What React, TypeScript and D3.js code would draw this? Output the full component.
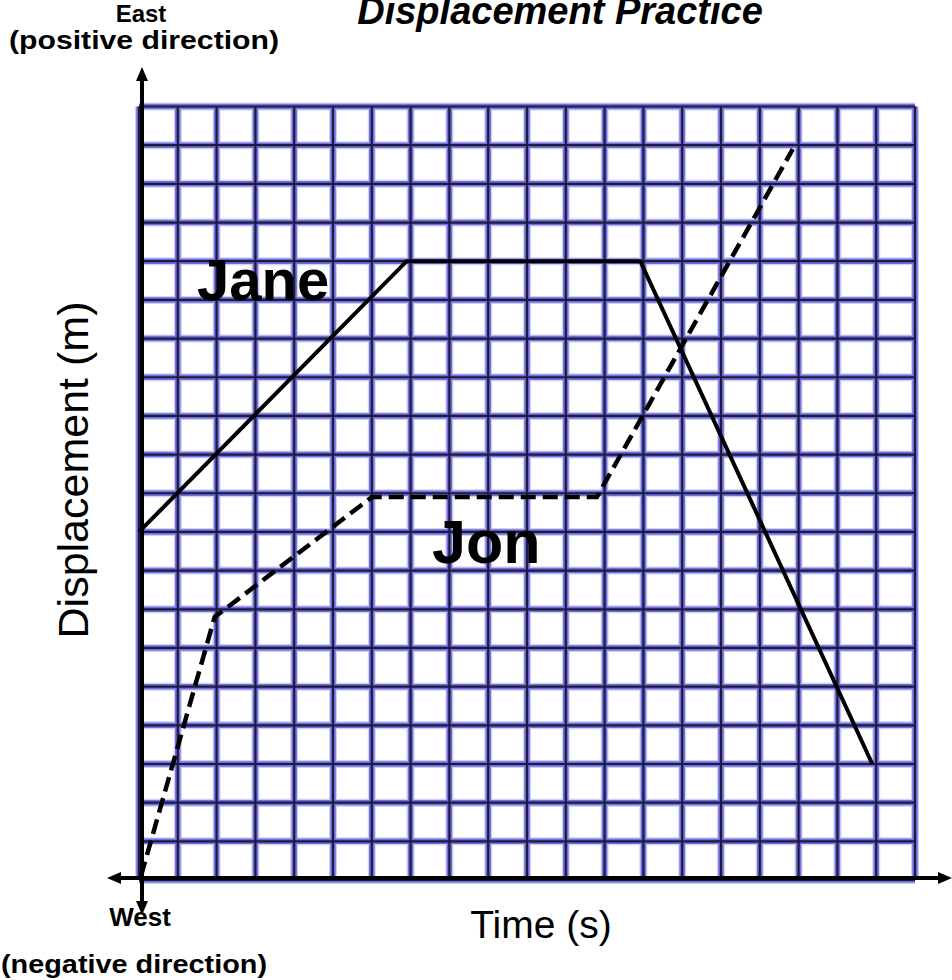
import React from "react";
import { scaleLinear, line, range } from "d3";

// time in grid units (s), displacement in grid units (m)
const janeTime = [0, 6.9, 12.92, 18.9];
const janeDisp = [9, 16, 16, 3];
const jonTime = [0.05, 1.95, 6.0, 11.8, 16.85];
const jonDisp = [0.1, 6.8, 9.9, 9.9, 18.9];
const gridCols = range(0, 21);
const gridRows = range(0, 21);

const font = "'Liberation Sans', Arial, sans-serif";

export default function App() {
  const width = 952;
  const height = 980;
  const x = scaleLinear().domain([0, 20]).range([139, 915]);
  const y = scaleLinear().domain([0, 20]).range([880, 106.5]);

  const janePts = janeTime.map((t, i) => [x(t), y(janeDisp[i])] as [number, number]);
  const jonPts = jonTime.map((t, i) => [x(t), y(jonDisp[i])] as [number, number]);

  const axisX = x(0) + 3;
  const axisY = 878;

  const gridLines = (stroke: string, w: number) => (
    <g stroke={stroke} strokeWidth={w} fill="none">
      {gridCols.map((c) => (
        <line key={"c" + c} x1={x(c)} x2={x(c)} y1={y(20)} y2={y(0)} />
      ))}
      {gridRows.map((r) => (
        <line key={"r" + r} x1={x(0)} x2={x(20)} y1={y(r)} y2={y(r)} />
      ))}
    </g>
  );

  return (
    <svg
      width={width}
      height={height}
      style={{ position: "absolute", left: 0, top: 0, background: "white" }}
    >
      {/* grid with blue glow */}
      {gridLines("#d0d0fa", 8)}
      {gridLines("#7070dc", 5.5)}
      {gridLines("#1c1c3e", 2.2)}

      {/* Jane - solid */}
      <path d={line()(janePts) || ""} fill="none" stroke="black" strokeWidth={4} />
      {/* Jon - dashed */}
      <path d={line()(jonPts) || ""} fill="none" stroke="black" strokeWidth={4.5} strokeDasharray="15,7" />

      {/* axes */}
      <g stroke="black" strokeWidth={4}>
        <line x1={axisX} x2={axisX} y1={79} y2={903} />
        <line x1={119} x2={940} y1={axisY} y2={axisY} />
      </g>
      <g fill="black">
        <polygon points={`${axisX},67 ${axisX - 6},81 ${axisX + 6},81`} />
        <polygon points={`${axisX},915 ${axisX - 6},901 ${axisX + 6},901`} />
        <polygon points={`107,${axisY} 121,${axisY - 6} 121,${axisY + 6}`} />
        <polygon points={`952,${axisY} 938,${axisY - 6} 938,${axisY + 6}`} />
      </g>

      {/* labels */}
      <text x={560} y={24} textAnchor="middle" fontFamily={font} fontWeight="bold" fontStyle="italic" fontSize={38}>
        Displacement Practice
      </text>
      <text x={141} y={22} textAnchor="middle" fontFamily={font} fontWeight="bold" fontSize={24}>
        East
      </text>
      <text x={144} y={49} textAnchor="middle" fontFamily={font} fontWeight="bold" fontSize={25}
        textLength={270} lengthAdjust="spacingAndGlyphs">
        (positive direction)
      </text>
      <text x={140} y={926} textAnchor="middle" fontFamily={font} fontWeight="bold" fontSize={26}>
        West
      </text>
      <text x={134} y={973} textAnchor="middle" fontFamily={font} fontWeight="bold" fontSize={26}
        textLength={266} lengthAdjust="spacingAndGlyphs">
        (negative direction)
      </text>
      <text x={541} y={938} textAnchor="middle" fontFamily={font} fontSize={39}>
        Time (s)
      </text>
      <text
        transform={`translate(88,470) rotate(-90)`}
        textAnchor="middle"
        fontFamily={font}
        fontSize={43}
      >
        Displacement (m)
      </text>
      <text x={197} y={300} fontFamily={font} fontWeight="bold" fontSize={58}>
        Jane
      </text>
      <text x={432} y={563} fontFamily={font} fontWeight="bold" fontSize={61}>
        Jon
      </text>
    </svg>
  );
}
